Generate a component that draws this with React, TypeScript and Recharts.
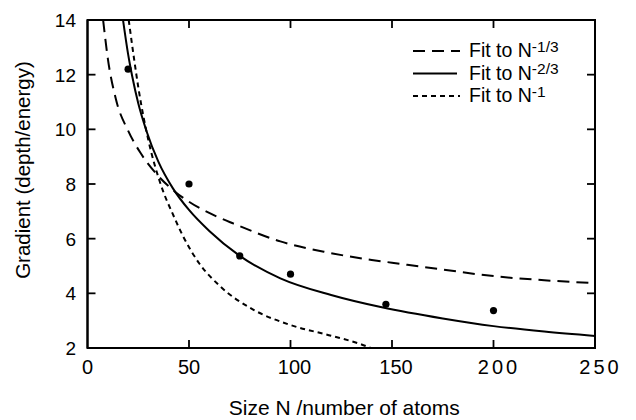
import React from 'react';
import { ComposedChart, Line, Scatter, XAxis, YAxis } from 'recharts';

// ---- data ----
const xTicks = [0, 50, 100, 150, 200, 250];
const yTicks = [2, 4, 6, 8, 10, 12, 14];
const xLabel = 'Size N /number of atoms';
const yLabel = 'Gradient (depth/energy)';

const measured = [
  { n: 20, g: 12.2 },
  { n: 50, g: 8.0 },
  { n: 75, g: 5.37 },
  { n: 100, g: 4.7 },
  { n: 147, g: 3.6 },
  { n: 200, g: 3.37 },
];

const fitThird = [
  { n: 7.7, g: 14.0 },
  { n: 10, g: 12.6 },
  { n: 14, g: 11.1 },
  { n: 20, g: 9.95 },
  { n: 26, g: 9.15 },
  { n: 33, g: 8.45 },
  { n: 41, g: 7.85 },
  { n: 50, g: 7.35 },
  { n: 64, g: 6.8 },
  { n: 72, g: 6.55 },
  { n: 95, g: 5.9 },
  { n: 118, g: 5.5 },
  { n: 140, g: 5.22 },
  { n: 150, g: 5.12 },
  { n: 175, g: 4.87 },
  { n: 200, g: 4.63 },
  { n: 225, g: 4.48 },
  { n: 250, g: 4.37 },
];

const fitTwoThirds = [
  { n: 17.5, g: 14.0 },
  { n: 20, g: 12.75 },
  { n: 22, g: 11.95 },
  { n: 25, g: 10.95 },
  { n: 29, g: 9.95 },
  { n: 35, g: 8.8 },
  { n: 42, g: 7.85 },
  { n: 50, g: 7.05 },
  { n: 60, g: 6.28 },
  { n: 75, g: 5.37 },
  { n: 95, g: 4.55 },
  { n: 120, g: 3.94 },
  { n: 145, g: 3.49 },
  { n: 175, g: 3.08 },
  { n: 200, g: 2.8 },
  { n: 225, g: 2.6 },
  { n: 250, g: 2.44 },
];

const fitOne = [
  { n: 20.3, g: 14.0 },
  { n: 23, g: 12.55 },
  { n: 25, g: 11.55 },
  { n: 30, g: 9.6 },
  { n: 36, g: 8.0 },
  { n: 42.5, g: 6.82 },
  { n: 47, g: 6.1 },
  { n: 55, g: 5.1 },
  { n: 65, g: 4.28 },
  { n: 82, g: 3.39 },
  { n: 100, g: 2.84 },
  { n: 120, g: 2.45 },
  { n: 135, g: 2.13 },
  { n: 139.5, g: 2.0 },
];

const legendLabels = ['Fit to N', 'Fit to N', 'Fit to N'];
const legendSups = ['-1/3', '-2/3', '-1'];
const legendDashes = ['12 7', '', '5 4'];

// ---- layout ----
const W = 636;
const H = 420;
const M_TOP = 20;
const M_RIGHT = 41;
const Y_AXIS_W = 87.5;
const X_AXIS_H = 72;

// ---- inward tick marks, built from the tick arrays ----
const xMin = xTicks[0];
const xMax = xTicks[xTicks.length - 1];
const yMin = yTicks[0];
const yMax = yTicks[yTicks.length - 1];
const tickMarks = [
  ...xTicks.slice(1, -1).map((t) => ({ n: t, g: yMin, side: 'b' })),
  ...xTicks.slice(1, -1).map((t) => ({ n: t, g: yMax, side: 't' })),
  ...yTicks.slice(1, -1).map((t) => ({ n: xMin, g: t, side: 'l' })),
  ...yTicks.slice(1, -1).map((t) => ({ n: xMax, g: t, side: 'r' })),
];

const FONT = '"Liberation Sans", Arial, Helvetica, sans-serif';
const TICK_LEN = 8;

const TickMark = (p: any) => {
  const { cx, cy } = p;
  const side = (p.payload && p.payload.side) || p.side;
  let x2 = cx;
  let y2 = cy;
  if (side === 'b') y2 = cy - TICK_LEN;
  else if (side === 't') y2 = cy + TICK_LEN;
  else if (side === 'l') x2 = cx + TICK_LEN;
  else x2 = cx - TICK_LEN;
  return <line x1={cx} y1={cy} x2={x2} y2={y2} stroke="#000" strokeWidth={1.8} />;
};

const XTick = (props: any) => {
  const { x, y, payload } = props;
  const v = payload.value;
  const dx = v >= 100 ? 4 : 0;
  const ls = v >= 200 ? 3 : 0;
  return (
    <text
      x={x + dx + ls / 2}
      y={y + 14}
      textAnchor="middle"
      fontSize={20}
      fontFamily={FONT}
      fill="#000"
      letterSpacing={ls}
    >
      {v}
    </text>
  );
};

const YTick = (props: any) => {
  const { x, y, payload } = props;
  return (
    <text x={x} y={y + 7} textAnchor="end" fontSize={19} fontFamily={FONT} fill="#000">
      {payload.value}
    </text>
  );
};

const XTitle = (props: any) => {
  const vb = props.viewBox;
  return (
    <text
      x={vb.x + vb.width / 2 + 3}
      y={vb.y + vb.height - 5.5}
      textAnchor="middle"
      fontSize={21}
      fontFamily={FONT}
      fill="#000"
    >
      {xLabel}
    </text>
  );
};

const YTitle = (props: any) => {
  const vb = props.viewBox;
  const cx = vb.x + 30;
  const cy = vb.y + vb.height / 2 - 14;
  return (
    <text
      x={cx}
      y={cy}
      transform={`rotate(-90 ${cx} ${cy})`}
      textAnchor="middle"
      fontSize={20.5}
      fontFamily={FONT}
      fill="#000"
    >
      {yLabel}
    </text>
  );
};

// legend and plot frame overlay (frame derived from the chart's layout constants)
const Overlay = () => (
  <svg
    width={W}
    height={H}
    style={{ position: 'absolute', left: 0, top: 0, pointerEvents: 'none' }}
  >
    <rect
      x={Y_AXIS_W}
      y={M_TOP}
      width={W - M_RIGHT - Y_AXIS_W}
      height={H - X_AXIS_H - M_TOP}
      fill="none"
      stroke="#000"
      strokeWidth={2}
    />
    {legendLabels.map((lab, i) => {
      const base = 57 + i * 22.5;
      return (
        <g key={i}>
          <line
            x1={413}
            x2={i === 1 ? 457 : 460}
            y1={base - 6}
            y2={base - 6}
            stroke="#000"
            strokeWidth={2}
            strokeDasharray={legendDashes[i] || undefined}
          />
          <text x={469} y={base} fontSize={19.5} fontFamily={FONT} fill="#000">
            {lab}
            <tspan dy={-5.5} fontSize={15.5}>
              {legendSups[i]}
            </tspan>
          </text>
        </g>
      );
    })}
  </svg>
);

const axisLine = { stroke: '#000', strokeWidth: 2 };

export default function App() {
  return (
    <div style={{ position: 'absolute', left: 0, top: 0, width: W, height: H, background: '#fff' }}>
      <ComposedChart width={W} height={H} margin={{ top: M_TOP, right: M_RIGHT, bottom: 0, left: 0 }}>
        <XAxis
          xAxisId="b"
          dataKey="n"
          type="number"
          domain={[xMin, xMax]}
          ticks={xTicks}
          orientation="bottom"
          height={X_AXIS_H}
          tickSize={0}
          tickMargin={12}
          tick={XTick}
          tickLine={false}
          axisLine={axisLine}
          label={<XTitle />}
        />
        <YAxis
          yAxisId="l"
          type="number"
          domain={[yMin, yMax]}
          ticks={yTicks}
          orientation="left"
          width={Y_AXIS_W}
          tickSize={0}
          tickMargin={11.5}
          tick={YTick}
          tickLine={false}
          axisLine={axisLine}
          label={<YTitle />}
        />
        <Scatter
          xAxisId="b"
          yAxisId="l"
          data={tickMarks}
          dataKey="g"
          fill="#000"
          shape={TickMark}
          legendType="none"
          isAnimationActive={false}
        />
        <Line
          xAxisId="b"
          yAxisId="l"
          data={fitThird}
          dataKey="g"
          type="monotone"
          stroke="#000"
          strokeWidth={2}
          strokeDasharray="12 7"
          dot={false}
          activeDot={false}
          isAnimationActive={false}
        />
        <Line
          xAxisId="b"
          yAxisId="l"
          data={fitTwoThirds}
          dataKey="g"
          type="monotone"
          stroke="#000"
          strokeWidth={2}
          dot={false}
          activeDot={false}
          isAnimationActive={false}
        />
        <Line
          xAxisId="b"
          yAxisId="l"
          data={fitOne}
          dataKey="g"
          type="monotone"
          stroke="#000"
          strokeWidth={2}
          strokeDasharray="5 4"
          dot={false}
          activeDot={false}
          isAnimationActive={false}
        />
        <Scatter
          xAxisId="b"
          yAxisId="l"
          data={measured}
          dataKey="g"
          fill="#000"
          shape={(p: any) => <circle cx={p.cx} cy={p.cy} r={3.6} fill="#000" />}
          isAnimationActive={false}
        />
      </ComposedChart>
      <Overlay />
    </div>
  );
}
